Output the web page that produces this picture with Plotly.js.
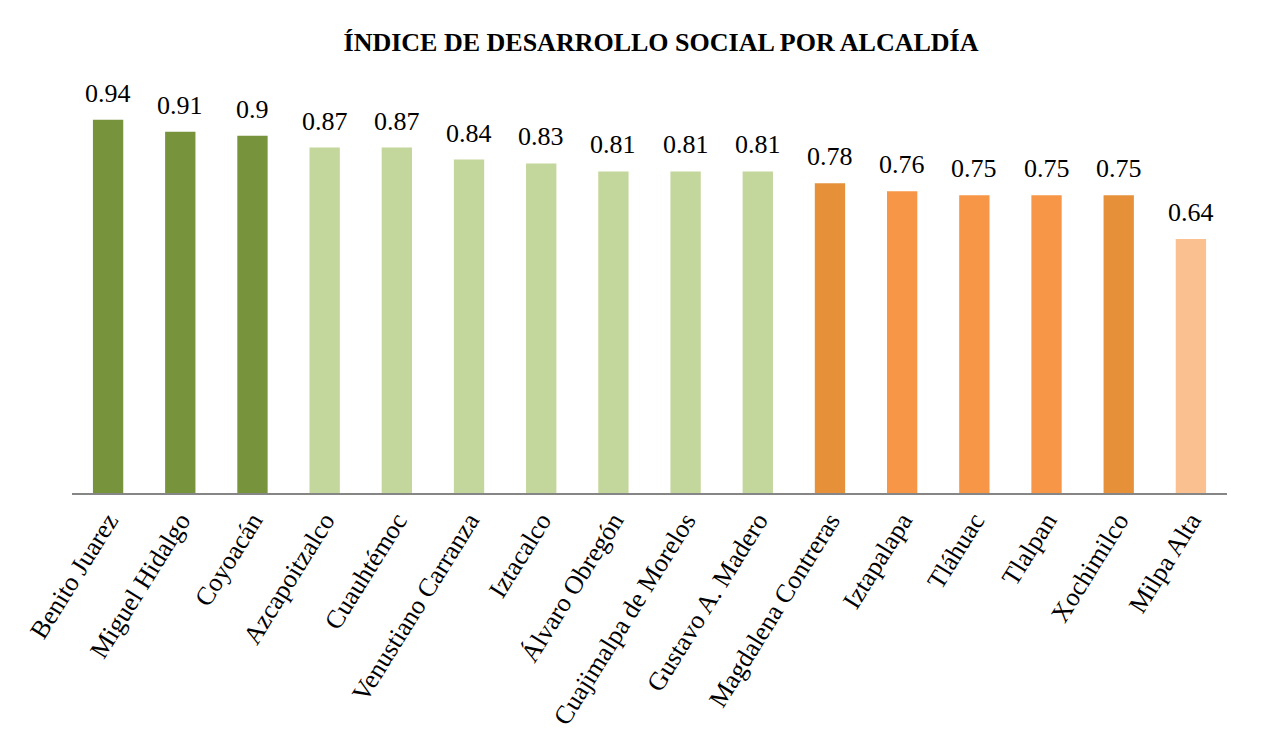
<!DOCTYPE html>
<html>
<head>
<meta charset="utf-8">
<script src="https://cdn.plot.ly/plotly-3.0.1.min.js"></script>
<style>html,body{margin:0;padding:0;background:#fff;}#chart{width:1286px;height:753px;}</style>
</head>
<body>
<div id="chart"></div>
<script>
const alcaldias = ["Benito Juarez","Miguel Hidalgo","Coyoacán","Azcapoitzalco","Cuauhtémoc","Venustiano Carranza","Iztacalco","Álvaro Obregón","Cuajimalpa de Morelos","Gustavo A. Madero","Magdalena Contreras","Iztapalapa","Tláhuac","Tlalpan","Xochimilco","Milpa Alta"];
const valores = [0.94,0.91,0.9,0.87,0.87,0.84,0.83,0.81,0.81,0.81,0.78,0.76,0.75,0.75,0.75,0.64];
const etiquetas = ["0.94","0.91","0.9","0.87","0.87","0.84","0.83","0.81","0.81","0.81","0.78","0.76","0.75","0.75","0.75","0.64"];
const colores = ["#77933C","#77933C","#77933C","#C3D69B","#C3D69B","#C3D69B","#C3D69B","#C3D69B","#C3D69B","#C3D69B","#E6913A","#F79646","#F79646","#F79646","#E6913A","#FAC090"];

const serif = "Liberation Serif, Times New Roman, serif";

const trace = {
  type: "bar",
  x: alcaldias,
  y: valores,
  marker: {color: colores, line: {width: 0}},
  hoverinfo: "x+y"
};

const anotaciones = alcaldias.map((a, i) => ({
  x: a, y: valores[i], xref: "x", yref: "y",
  text: etiquetas[i], showarrow: false,
  xanchor: "center", yanchor: "bottom", yshift: 10,
  font: {family: serif, size: 26, color: "#000"}
}));

const layout = {
  width: 1286, height: 753,
  margin: {l: 72, r: 59, t: 96, b: 260},
  paper_bgcolor: "#fff", plot_bgcolor: "#fff",
  bargap: 0.58,
  showlegend: false,
  annotations: anotaciones,
  title: {text: "<b>ÍNDICE DE DESARROLLO SOCIAL POR ALCALDÍA</b>", x: 0.514, xanchor: "center", y: 0.944, yanchor: "middle",
    font: {family: serif, size: 26, color: "#000"}},
  xaxis: {
    tickangle: -58,
    tickfont: {family: serif, size: 26, color: "#000"},
    showline: true, linecolor: "#868686", linewidth: 2,
    ticks: "", showgrid: false, zeroline: false, automargin: false
  },
  yaxis: {
    range: [0, 1], visible: false, showgrid: false, zeroline: false, fixedrange: true
  }
};

Plotly.newPlot("chart", [trace], layout, {displayModeBar: false, staticPlot: true});
</script>
</body>
</html>
